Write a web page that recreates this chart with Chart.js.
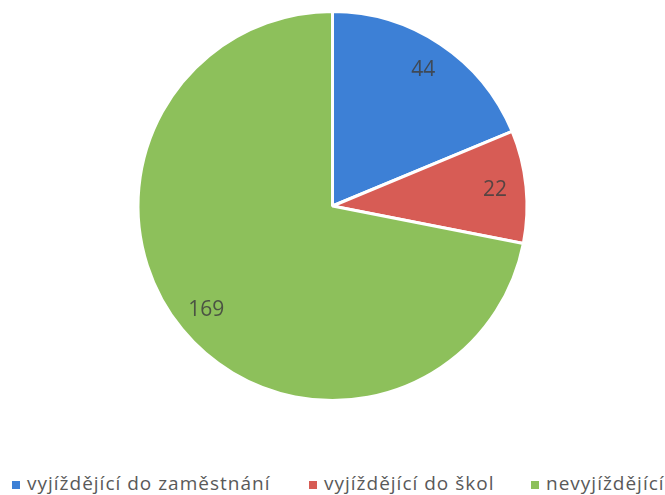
<!DOCTYPE html>
<html lang="cs">
<head>
<meta charset="utf-8">
<title>Vyjížďka</title>
<script src="https://cdn.jsdelivr.net/npm/chart.js@4.4.1/dist/chart.umd.min.js"></script>
<style>
    html, body { margin: 0; padding: 0; background: #fff; }
    #wrap { position: relative; width: 665px; height: 495px; overflow: hidden; }
    #chart { position: absolute; left: 0; top: 0; }
    .leg { position: absolute; top: 473px; height: 20px; line-height: 20px; font-family: "Open Sans", sans-serif;
           font-size: 19px; letter-spacing: 1px; color: #595959; white-space: nowrap; }
    .leg i { position: absolute; left: 0; top: 8px; width: 8px; height: 8px; }
    .leg span { position: absolute; left: 15px; top: 0; }
</style>
</head>
<body>
<div id="wrap">
    <canvas id="chart" width="665" height="420"></canvas>
    <div id="legend"></div>
</div>
<script>
// --- Data ---
const categories = ['vyjíždějící do zaměstnání', 'vyjíždějící do škol', 'nevyjíždějící'];
const values = [44, 22, 169];
const colors = ['#3d80d6', '#d75c55', '#8dc05b'];

// Popisky hodnot uvnitř výsečí
const valueLabels = {
    id: 'valueLabels',
    afterDatasetsDraw(chart) {
        const ctx = chart.ctx;
        const meta = chart.getDatasetMeta(0);
        ctx.save();
        ctx.font = '21px "Open Sans", sans-serif';
        ctx.fillStyle = 'rgba(64,64,64,0.85)';
        ctx.textAlign = 'center';
        ctx.textBaseline = 'middle';
        meta.data.forEach((arc, i) => {
            const mid = (arc.startAngle + arc.endAngle) / 2;
            const r = arc.outerRadius * 0.84;
            ctx.fillText(String(values[i]), arc.x + Math.cos(mid) * r, arc.y + Math.sin(mid) * r);
        });
        ctx.restore();
    }
};

new Chart(document.getElementById('chart'), {
    type: 'pie',
    data: {
        labels: categories,
        datasets: [{
            data: values,
            backgroundColor: colors,
            borderColor: '#ffffff',
            borderWidth: 3
        }]
    },
    options: {
        responsive: false,
        animation: false,
        layout: { padding: { top: 10, bottom: 18 } },
        plugins: {
            legend: { display: false },
            tooltip: { enabled: false }
        }
    },
    plugins: [valueLabels]
});

// Legenda pod grafem
const legendLeft = [12, 309, 531];
const legendEl = document.getElementById('legend');
categories.forEach((name, i) => {
    const item = document.createElement('div');
    item.className = 'leg';
    item.style.left = legendLeft[i] + 'px';
    const box = document.createElement('i');
    box.style.background = colors[i];
    const txt = document.createElement('span');
    txt.textContent = name;
    item.appendChild(box);
    item.appendChild(txt);
    legendEl.appendChild(item);
});
</script>
</body>
</html>
